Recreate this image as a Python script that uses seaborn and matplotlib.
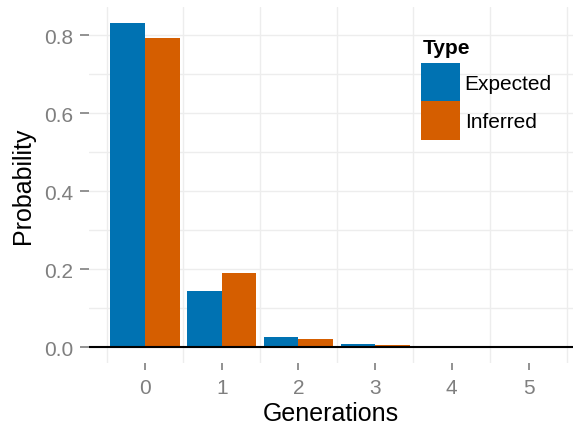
import numpy as np
import pandas as pd
import matplotlib
matplotlib.use('Agg')
import matplotlib.pyplot as plt
import seaborn as sns
from matplotlib.patches import Patch

# valeurs
generations = ['0', '1', '2', '3', '4', '5']
expected = [0.831, 0.144, 0.026, 0.007, 0.0012, 0.0003]
inferred = [0.793, 0.189, 0.021, 0.005, 0.0008, 0.0002]
types = ['Expected', 'Inferred']
colors = ['#0072B2', '#D55E00']

df = pd.DataFrame({
    'Generations': generations * 2,
    'Probability': expected + inferred,
    'Type': [types[0]] * len(expected) + [types[1]] * len(inferred),
})

sns.set_style('white')
plt.rcParams['font.family'] = ['Liberation Sans', 'DejaVu Sans']
plt.rcParams['text.color'] = 'black'

fig = plt.figure(figsize=(5.73, 4.27), dpi=100)
ax = fig.add_axes([89 / 573, 63 / 427, 484 / 573, 356 / 427])

sns.barplot(data=df, x='Generations', y='Probability', hue='Type',
            palette=colors, saturation=1, width=0.9, gap=0, linewidth=0,
            legend=False, ax=ax, zorder=2)
ax.axhline(0, color='black', lw=1.5, zorder=3)

ax.set_xlim(-0.73, 5.58)
ax.set_ylim(-0.041, 0.872)
ax.set_yticks([0, 0.2, 0.4, 0.6, 0.8])
ax.set_yticklabels(['0.0', '0.2', '0.4', '0.6', '0.8'])
ax.set_yticks([0.1, 0.3, 0.5, 0.7], minor=True)
ax.set_xticks(np.arange(-0.5, 6, 1), minor=True)

# grille claire façon ggplot
ax.set_axisbelow(True)
ax.grid(axis='y', which='both', color='#EDEDED', lw=1.0)
ax.grid(axis='x', which='minor', color='#EDEDED', lw=1.0)
ax.grid(axis='x', which='major', visible=False)
for s in ax.spines.values():
    s.set_visible(False)

ax.tick_params(axis='both', which='major', colors='#7F7F7F', labelsize=15,
               width=1.2, direction='out')
ax.tick_params(axis='y', which='major', length=6.5, pad=5, left=True)
ax.tick_params(axis='x', which='major', length=5, pad=6, bottom=True)
ax.tick_params(which='minor', bottom=False, left=False, length=0)

ax.set_xlabel('Generations', fontsize=18, color='black', labelpad=3)
ax.set_ylabel('Probability', fontsize=18, color='black', labelpad=6)

# légende : titre à part pour garder l'écart avec les carrés
handles = [Patch(facecolor=c, edgecolor='none', label=t) for c, t in zip(colors, types)]
leg = fig.legend(handles=handles, loc='upper left',
                 bbox_to_anchor=(421 / 573, 1 - 64 / 427), frameon=False,
                 fontsize=15, borderpad=0, borderaxespad=0, labelspacing=0,
                 handlelength=1.85, handleheight=2.45, handletextpad=0.25,
                 labelcolor='black')
fig.text(423 / 573, 1 - 39 / 427, 'Type', fontsize=15, fontweight='bold',
         color='black', ha='left', va='top')

fig.savefig('out.png', dpi=100)
